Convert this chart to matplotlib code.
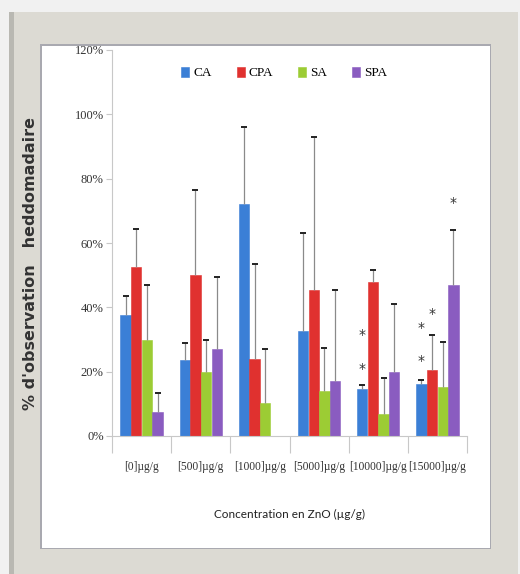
import numpy as np
import matplotlib
matplotlib.use('Agg')
import matplotlib.pyplot as plt
from matplotlib.patches import Rectangle

# --- data ---
groups = ['[0]µg/g', '[500]µg/g', '[1000]µg/g', '[5000]µg/g', '[10000]µg/g', '[15000]µg/g']
series = ['CA', 'CPA', 'SA', 'SPA']
colors = ['#3b7fd6', '#e0312f', '#9ccc34', '#8a5cc0']

ca = [37.5, 23.5, 72.0, 32.5, 14.5, 16.2]
cpa = [52.5, 50.0, 24.0, 45.5, 48.0, 20.5]
sa = [30.0, 20.0, 10.3, 14.0, 6.8, 15.3]
spa = [7.5, 27.0, 0.0, 17.2, 20.0, 47.0]

ca_err = [6.0, 5.5, 24.0, 30.5, 1.5, 1.1]
cpa_err = [12.0, 26.5, 29.5, 47.5, 3.5, 11.0]
sa_err = [17.0, 10.0, 16.7, 13.5, 11.2, 14.0]
spa_err = [6.0, 22.5, 0.0, 28.3, 21.0, 17.0]

# significance stars: group index, series index, height (%)
star_group = [4, 4, 5, 5, 5, 5]
star_series = [0, 0, 0, 0, 1, 3]
star_y = [20.7, 31.5, 23.3, 33.5, 38.0, 72.5]

yticks = [0, 20, 40, 60, 80, 100, 120]

W, H = 520, 574
fig = plt.figure(figsize=(W / 100, H / 100), dpi=100)
fig.patch.set_facecolor('#f1f1f1')

def px_rect(x0, y0, x1, y1, **kw):
    # rectangle given in image pixels (top-left origin)
    r = Rectangle((x0 / W, 1 - y1 / H), (x1 - x0) / W, (y1 - y0) / H,
                  transform=fig.transFigure, zorder=-5, **kw)
    fig.patches.append(r)

# photo frame
px_rect(9, 12, 518, 574, facecolor='#dcdad3', edgecolor='none')
px_rect(9, 12, 14, 574, facecolor='#b9b8b2', edgecolor='none')
px_rect(40, 44, 491, 549, facecolor='#a9a9b0', edgecolor='none')
px_rect(42, 46, 490, 548, facecolor='white', edgecolor='none')

ax = fig.add_axes([112 / W, 1 - 436 / H, (467 - 112) / W, (436 - 50) / H])
ax.set_facecolor('none')
ax.set_zorder(2)

x = np.arange(len(groups))
bw = 0.18
vals = [ca, cpa, sa, spa]
errs = [ca_err, cpa_err, sa_err, spa_err]

for k, (v, e) in enumerate(zip(vals, errs)):
    pos = x + (k - 1.5) * bw
    v = np.array(v)
    e = np.array(e)
    ax.bar(pos, v, bw * 0.97, color=colors[k], edgecolor=colors[k], linewidth=0.4,
           label=series[k], zorder=2)
    has = e > 0
    ax.vlines(pos[has], v[has], v[has] + e[has], color='#8a8a8a', linewidth=0.9, zorder=3)
    ax.scatter(pos[has], v[has] + e[has], marker='_', s=18, color='#222222',
               linewidths=1.4, zorder=4)

for g, s, yy in zip(star_group, star_series, star_y):
    ax.text(g + (s - 1.5) * bw, yy, '*', ha='center', va='center', fontsize=10,
            color='#333333', zorder=5)

ax.set_xlim(-0.5, len(groups) - 0.5)
ax.set_ylim(0, 120)
ax.set_yticks(yticks)
ax.set_yticklabels([f'{t}%' for t in yticks], family='Liberation Serif',
                   fontsize=9, color='#333333')

ax.set_xticks(np.arange(len(groups) + 1) - 0.5)
ax.set_xticklabels([])
ax.set_xticks(x, minor=True)
ax.set_xticklabels(groups, minor=True, family='Liberation Serif', fontsize=8.3,
                   color='#333333')
ax.tick_params(axis='x', which='major', length=12, color='#c8c8c8', direction='out')
ax.tick_params(axis='x', which='minor', length=0, pad=18)
ax.tick_params(axis='y', length=4, color='#c8c8c8', pad=2)

for side in ['top', 'right']:
    ax.spines[side].set_visible(False)
ax.spines['left'].set_color('#c8c8c8')
ax.spines['bottom'].set_color('#c8c8c8')

ax.set_xlabel('Concentration en ZnO (µg/g)', family='Lato', fontsize=8.5,
              color='#222222', labelpad=26)
fig.text(31 / W, 1 - 263 / H, "% d'observation   heddomadaire", rotation=90,
         ha='center', va='center', fontsize=11.5, fontweight='bold', color='#333333',
         zorder=3)

ax.legend(loc='center', bbox_to_anchor=(0.485, 0.94), ncol=4, frameon=False,
          handlelength=0.6, handleheight=0.8, handletextpad=0.3, columnspacing=1.9,
          prop={'family': 'Liberation Serif', 'size': 9.5})

fig.savefig('out.png', dpi=100, facecolor=fig.get_facecolor())
